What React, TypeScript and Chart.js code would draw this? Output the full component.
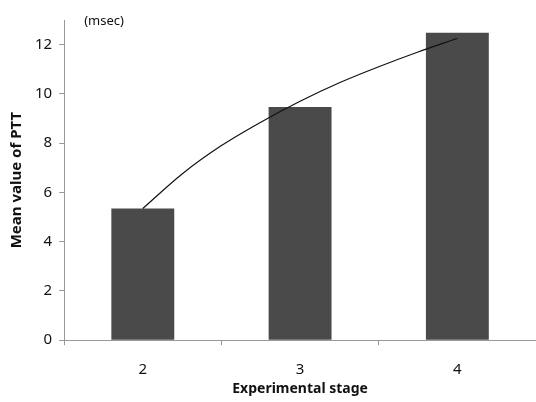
import React, { useEffect, useRef } from "react";
import { Chart, registerables } from "chart.js";

Chart.register(...registerables);

const categories = ["2", "3", "4"];
const pttMeans = [5.35, 9.47, 12.48];
const trendX = [2, 2.25, 2.5, 2.75, 3, 3.25, 3.5, 3.75, 4];
const trendY = [5.35, 6.75, 7.9, 8.85, 9.7, 10.45, 11.1, 11.7, 12.25];
const yTicks = [0, 2, 4, 6, 8, 10, 12];
const yUnit = "(msec)";
const yTitle = "Mean value of PTT";
const xTitle = "Experimental stage";

const FONT = "'Noto Sans', 'Open Sans', sans-serif";

const unitLabel = {
  id: "unitLabel",
  afterDraw(chart: any) {
    const { ctx, chartArea } = chart;
    ctx.save();
    ctx.font = `13px ${FONT}`;
    ctx.fillStyle = "#111";
    ctx.textAlign = "left";
    ctx.textBaseline = "middle";
    ctx.fillText(yUnit, chartArea.left + 20, chartArea.top + 1);
    ctx.restore();
  },
};

export default function App() {
  const ref = useRef<HTMLCanvasElement | null>(null);
  useEffect(() => {
    if (!ref.current) return;
    const chart = new Chart(ref.current, {
      type: "bar",
      data: {
        labels: categories,
        datasets: [
          {
            type: "bar",
            data: pttMeans,
            backgroundColor: "#4a4a4a",
            barPercentage: 0.4,
            categoryPercentage: 1,
            grouped: false,
            xAxisID: "x",
            order: 2,
          } as any,
          {
            type: "line",
            data: trendX.map((x, i) => ({ x, y: trendY[i] })),
            borderColor: "#111",
            borderWidth: 1.2,
            pointRadius: 0,
            cubicInterpolationMode: "monotone",
            fill: false,
            xAxisID: "xLine",
            order: 1,
          } as any,
        ],
      },
      options: {
        animation: false,
        responsive: true,
        maintainAspectRatio: false,
        layout: { padding: { top: 20, right: 0, left: 8, bottom: 5 } },
        plugins: { legend: { display: false }, tooltip: { enabled: false } },
        scales: {
          x: {
            type: "category",
            offset: true,
            grid: {
              display: true,
              offset: true,
              drawOnChartArea: false,
              drawTicks: true,
              tickLength: 5,
              color: "#999",
            },
            border: { display: true, color: "#999", width: 1 },
            ticks: { color: "#111", font: { family: FONT, size: 15 }, padding: 16 },
            title: {
              display: true,
              text: xTitle,
              color: "#111",
              font: { family: FONT, size: 14, weight: "bold" },
              padding: { top: -15, bottom: 0 },
            },
          },
          xLine: {
            type: "linear",
            display: false,
            offset: false,
            min: 1.5,
            max: 4.5,
          },
          y: {
            min: 0,
            max: 13,
            afterBuildTicks: (axis: any) => {
              axis.ticks = yTicks.map((v) => ({ value: v }));
            },
            grid: {
              display: true,
              drawOnChartArea: false,
              drawTicks: true,
              tickLength: 5,
              color: "#999",
            },
            border: { display: true, color: "#999", width: 1, dash: [1, 1] },
            ticks: { color: "#111", font: { family: FONT, size: 15 }, padding: 7 },
            title: {
              display: true,
              text: yTitle,
              color: "#111",
              font: { family: FONT, size: 15, weight: "bold" },
              padding: { top: 0, bottom: 2 },
            },
          },
        },
      },
      plugins: [unitLabel],
    });
    return () => chart.destroy();
  }, []);
  return (
    <div style={{ position: "fixed", left: 0, top: 0, width: 536, height: 402, background: "#fff" }}>
      <canvas ref={ref} />
    </div>
  );
}
